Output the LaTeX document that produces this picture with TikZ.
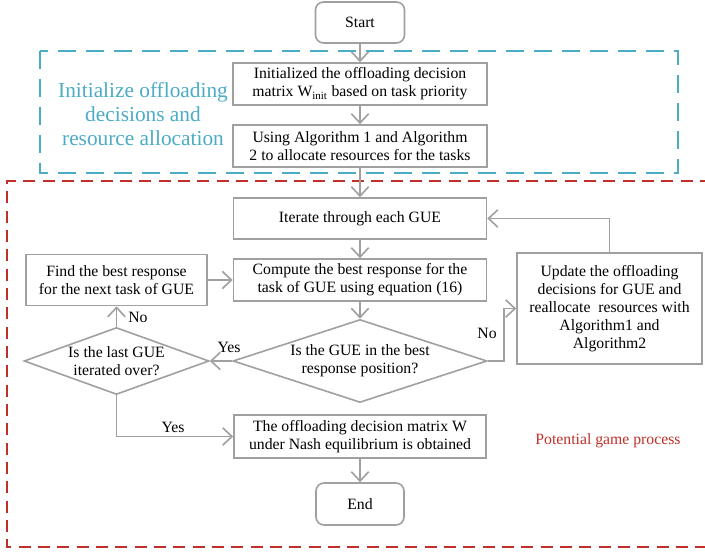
\documentclass[tikz,border=0pt]{standalone}
\usepackage{fontspec}
\setmainfont{Liberation Serif}
\usetikzlibrary{arrows.meta,shapes.geometric}
\definecolor{lgray}{HTML}{A0A0A0}
\definecolor{iblue}{HTML}{4BACC6}
\definecolor{pred}{HTML}{C0302B}
\begin{document}
\begin{tikzpicture}[x=0.75pt,y=-0.75pt,
  txt/.style={font=\fontsize{11.8}{13.5}\selectfont},
  box/.style={txt,draw=lgray,line width=1.2pt,align=center,inner sep=0pt},
  term/.style={box,rounded corners=6pt},
  dec/.style={box,shape=diamond,inner sep=-3pt},
  arr/.style={draw=lgray,line width=1.2pt,-{Straight Barb[length=7pt,width=13pt]}},
  lbl/.style={txt,inner sep=0pt}]
\useasboundingbox (0,0) rectangle (705,552);
\fill[white] (0,0) rectangle (705,552);
% group frames
\draw[iblue,line width=2pt,dash pattern=on 13.5pt off 7.5pt] (40,51) rectangle (678,173);
\draw[pred,line width=1.6pt,dash pattern=on 9pt off 5.5pt] (712,181) -- (7,181) -- (7,547) -- (712,547);
% nodes
\node[term,minimum width=66.75pt,minimum height=30.75pt] (start) at (360,22.5) {Start};
\node[box,minimum width=190.5pt,minimum height=31.5pt] (b1) at (360,84) {Initialized the offloading decision\\matrix W\textsubscript{init} based on task priority};
\node[box,minimum width=190.5pt,minimum height=31.5pt] (b2) at (360,146) {Using Algorithm 1 and Algorithm\\2 to allocate resources for the tasks};
\node[box,minimum width=189.75pt,minimum height=30.75pt] (iter) at (360,218.5) {Iterate through each GUE};
\node[box,minimum width=189.75pt,minimum height=31.5pt] (comp) at (360,280) {Compute the best response for the\\task of GUE using equation (16)};
\node[box,minimum width=135.75pt,minimum height=38.25pt] (find) at (116.5,280) {Find the best response\\for the next task of GUE};
\node[box,minimum width=138.75pt,minimum height=83.25pt] (upd) at (609.5,308.5) {Update the offloading\\decisions for GUE and\\reallocate\ \ resources with\\Algorithm1 and\\Algorithm2};
\node[dec,minimum width=190.5pt,minimum height=62.25pt,aspect=3.06] (d2) at (360,361) {Is the GUE in the best\\response position?};
\node[dec,minimum width=138.75pt,minimum height=50.25pt,aspect=2.76] (d1) at (116.5,361) {Is the last GUE\\iterated over?};
\node[box,minimum width=189pt,minimum height=32.25pt] (fin) at (360,436.5) {The offloading decision matrix W\\under Nash equilibrium is obtained};
\node[term,minimum width=66pt,minimum height=31.5pt] (end) at (360,504) {End};
% labels
\node[align=center,text=iblue,font=\fontsize{16}{18}\selectfont] (init) at (143,114) {Initialize offloading\\decisions and\\resource allocation};
\node[txt,text=pred] (pgp) at (608,441) {Potential game process};
\node[lbl] (yes1) at (229,347) {Yes};
\node[lbl] (no1) at (138,317) {No};
\node[lbl] (no2) at (487,333) {No};
\node[lbl] (yes2) at (173,427) {Yes};
% connectors
\draw[arr] (start) -- (b1);
\draw[arr] (b1) -- (b2);
\draw[arr] (b2) -- (iter);
\draw[arr] (iter) -- (comp);
\draw[arr] (comp) -- (d2);
\draw[arr] (d2.west) -- (d1.east);
\draw[arr] (d1.north) -- (find.south);
\draw[arr] (find) -- (comp);
\draw[arr] (d2.east) -- ++(16,0) |- (upd.west);
\draw[arr] (upd.north) |- (iter.east);
\draw[arr] (d1.south) |- (fin.west);
\draw[arr] (fin) -- (end);
\end{tikzpicture}
\end{document}
